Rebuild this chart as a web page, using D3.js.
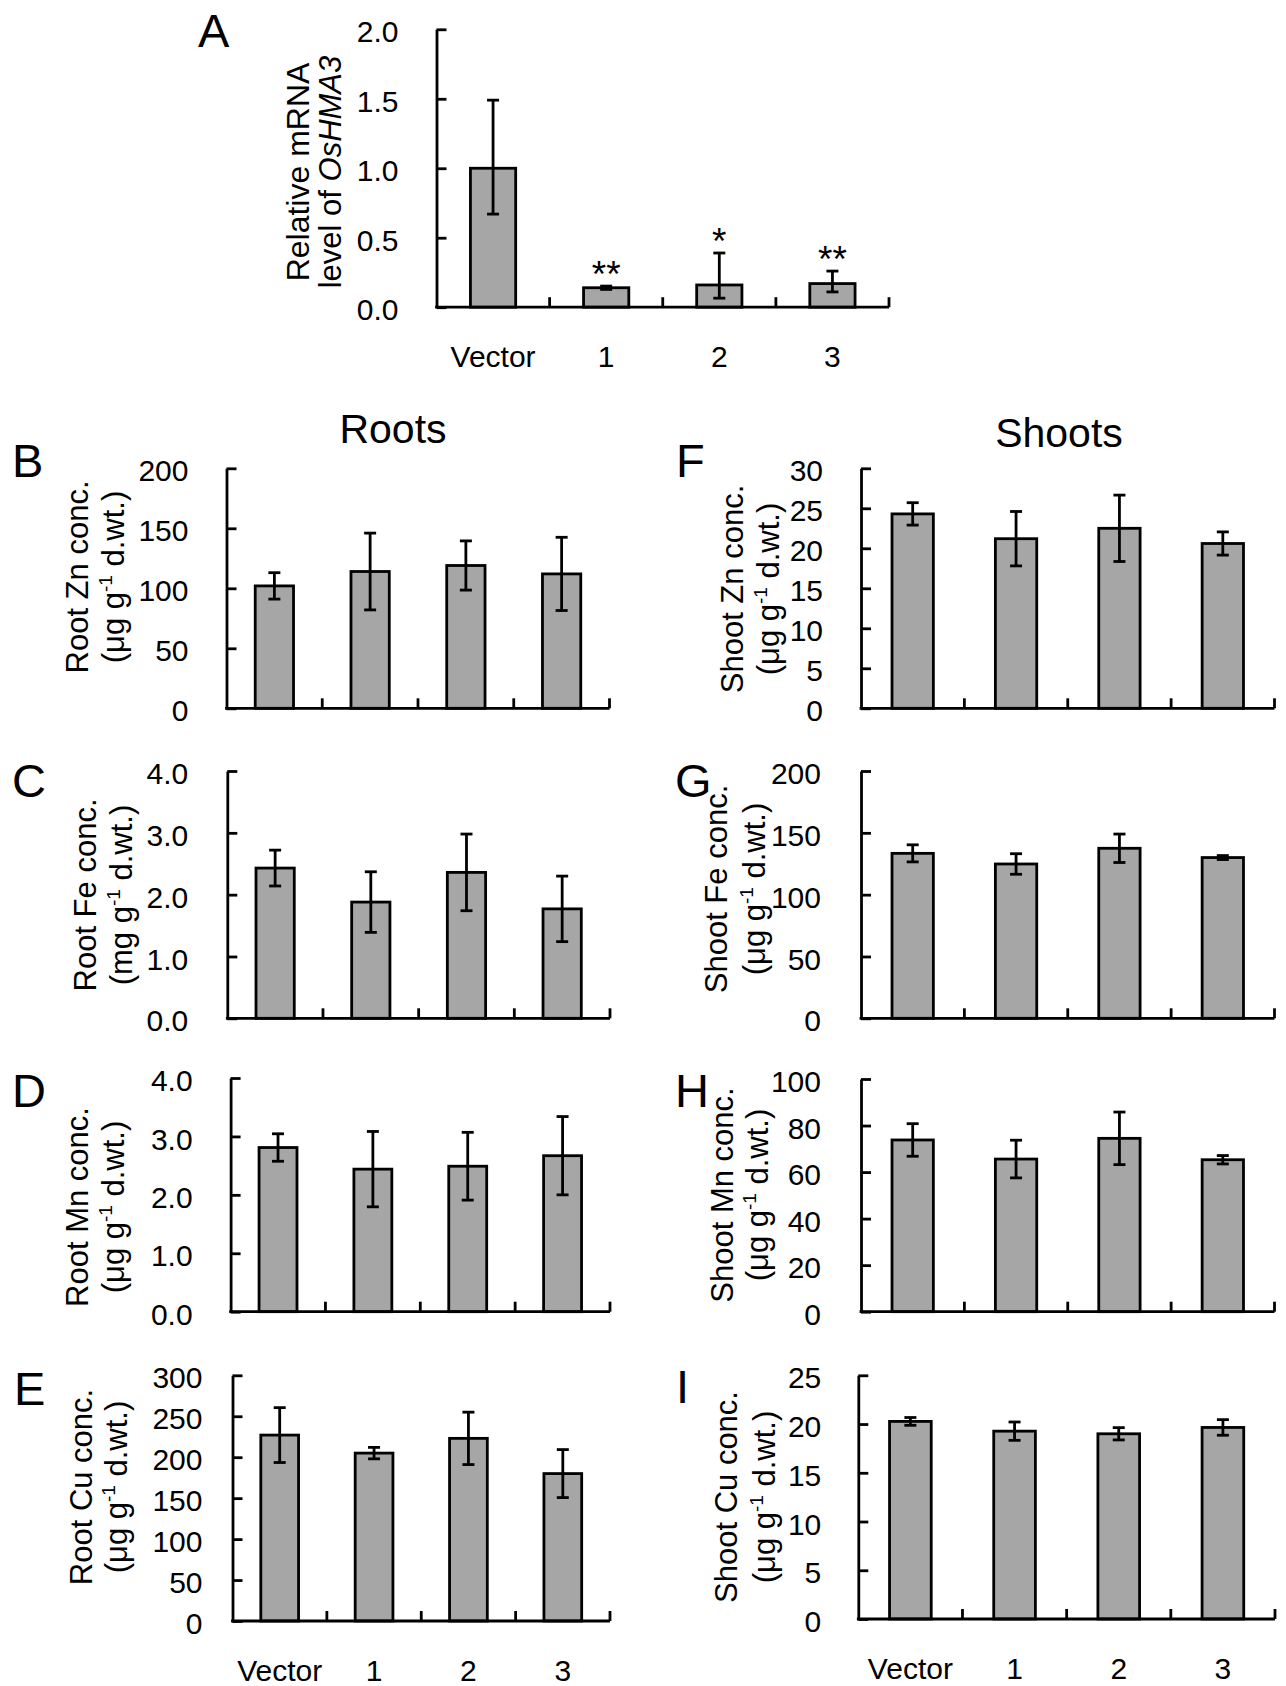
<!DOCTYPE html>
<html>
<head>
<meta charset="utf-8">
<script src="https://cdn.jsdelivr.net/npm/d3@7"></script>
<style>
  html, body { margin: 0; padding: 0; background: #fff; }
  svg text { font-family: "Liberation Sans", Arial, Helvetica, sans-serif; fill: #000; }
</style>
</head>
<body>
<svg id="chart" width="1286" height="1686"></svg>
<script>
// ---------------- DATA ----------------
const categories = ["Vector", "1", "2", "3"];

// A: relative mRNA level of OsHMA3 (asymmetric error bars)
const mrnaMean    = [1.00, 0.14, 0.16, 0.17];
const mrnaErrUp   = [0.49, 0.012, 0.23, 0.09];
const mrnaErrDown = [0.33, 0.012, 0.095, 0.06];
const mrnaSig     = ["", "**", "*", "**"];
const mrnaTicks   = [0, 0.5, 1.0, 1.5, 2.0];

// Roots
const rootZn    = [102, 114, 119, 112];
const rootZnErr = [11, 32, 20.5, 30.5];
const rootZnTicks = [0, 50, 100, 150, 200];

const rootFe    = [2.43, 1.88, 2.36, 1.77];
const rootFeErr = [0.29, 0.49, 0.62, 0.53];
const rootFeTicks = [0, 1, 2, 3, 4];

const rootMn    = [2.81, 2.44, 2.49, 2.67];
const rootMnErr = [0.235, 0.645, 0.58, 0.67];
const rootMnTicks = [0, 1, 2, 3, 4];

const rootCu    = [227, 205, 223, 180];
const rootCuErr = [33.5, 7, 32, 29.3];
const rootCuTicks = [0, 50, 100, 150, 200, 250, 300];

// Shoots
const shootZn    = [24.3, 21.2, 22.5, 20.6];
const shootZnErr = [1.4, 3.4, 4.15, 1.45];
const shootZnTicks = [0, 5, 10, 15, 20, 25, 30];

const shootFe    = [133.4, 124.8, 137.5, 130.0];
const shootFeErr = [6.9, 8.3, 11.5, 1.6];
const shootFeTicks = [0, 50, 100, 150, 200];

const shootMn    = [73.8, 65.6, 74.5, 65.3];
const shootMnErr = [7, 8.1, 11.3, 1.8];
const shootMnTicks = [0, 20, 40, 60, 80, 100];

const shootCu    = [20.27, 19.27, 19.0, 19.65];
const shootCuErr = [0.4, 0.94, 0.63, 0.8];
const shootCuTicks = [0, 5, 10, 15, 20, 25];

// ---------------- LAYOUT ----------------
const svg = d3.select("#chart");
const BAR_FILL = "#a6a6a6";
const LW = 2.8;

const panels = [
  { letter: "A", lx: 198, ly: 47, x0: 436.5, x1: 889, yTop: 29.3, yBot: 307.2,
    mean: mrnaMean, up: mrnaErrUp, down: mrnaErrDown, sig: mrnaSig, ticks: mrnaTicks, fmt: ".1f",
    gap: 38, xlabels: true, t1x: 309, t2x: 341, tcy: 172, t1size: 32,
    title1: [{t: "Relative mRNA"}], title2: [{t: "level of "}, {t: "OsHMA3", italic: true}] },

  { letter: "B", lx: 12, ly: 477, x0: 226.5, x1: 609.5, yTop: 468.3, yBot: 708.3,
    mean: rootZn, up: rootZnErr, down: rootZnErr, ticks: rootZnTicks, fmt: "d",
    gap: 38, t1x: 88, t2x: 124, tcy: 577, title1: "Root Zn conc.", unit: "μg" },
  { letter: "C", lx: 12, ly: 797, x0: 227.3, x1: 610, yTop: 771, yBot: 1018.3,
    mean: rootFe, up: rootFeErr, down: rootFeErr, ticks: rootFeTicks, fmt: ".1f",
    gap: 39, t1x: 96, t2x: 132, tcy: 895, title1: "Root Fe conc.", unit: "mg" },
  { letter: "D", lx: 12, ly: 1107, x0: 230.6, x1: 610, yTop: 1078, yBot: 1311.7,
    mean: rootMn, up: rootMnErr, down: rootMnErr, ticks: rootMnTicks, fmt: ".1f",
    gap: 38, t1x: 88, t2x: 124, tcy: 1207, title1: "Root Mn conc.", unit: "μg" },
  { letter: "E", lx: 14, ly: 1405, x0: 232.5, x1: 610, yTop: 1375.3, yBot: 1621,
    mean: rootCu, up: rootCuErr, down: rootCuErr, ticks: rootCuTicks, fmt: "d",
    gap: 30, xlabels: true, t1x: 92, t2x: 127, tcy: 1487, title1: "Root Cu conc.", unit: "μg" },

  { letter: "F", lx: 676, ly: 477, x0: 861, x1: 1274.5, yTop: 468.3, yBot: 708.3,
    mean: shootZn, up: shootZnErr, down: shootZnErr, ticks: shootZnTicks, fmt: "d",
    gap: 38, t1x: 743, t2x: 779, tcy: 589, title1: "Shoot Zn conc.", unit: "μg" },
  { letter: "G", lx: 675, ly: 797, x0: 861, x1: 1274.5, yTop: 771, yBot: 1018.3,
    mean: shootFe, up: shootFeErr, down: shootFeErr, ticks: shootFeTicks, fmt: "d",
    gap: 40, t1x: 727, t2x: 765, tcy: 889, title1: "Shoot Fe conc.", unit: "μg" },
  { letter: "H", lx: 675, ly: 1107, x0: 861, x1: 1274.5, yTop: 1079, yBot: 1311.7,
    mean: shootMn, up: shootMnErr, down: shootMnErr, ticks: shootMnTicks, fmt: "d",
    gap: 40, t1x: 733, t2x: 768, tcy: 1195, title1: "Shoot Mn conc.", unit: "μg" },
  { letter: "I", lx: 676, ly: 1403, x0: 858.3, x1: 1275, yTop: 1375.3, yBot: 1619,
    mean: shootCu, up: shootCuErr, down: shootCuErr, ticks: shootCuTicks, fmt: "d",
    gap: 37, xlabels: true, t1x: 737, t2x: 775, tcy: 1497, title1: "Shoot Cu conc.", unit: "μg" }
];

function drawPanel(p) {
  const g = svg.append("g");
  const y = d3.scaleLinear()
    .domain([0, p.ticks[p.ticks.length - 1]])
    .range([p.yBot, p.yTop]);
  const x = d3.scaleBand()
    .domain(categories)
    .range([p.x0, p.x1])
    .paddingInner(0.6)
    .paddingOuter(0.3);
  const bw = x.bandwidth();
  const step = x.step();

  const data = categories.map((c, i) => ({
    c, m: p.mean[i], hi: p.mean[i] + p.up[i], lo: p.mean[i] - p.down[i],
    sig: p.sig ? p.sig[i] : ""
  }));

  // bars
  g.selectAll("rect.bar").data(data).enter().append("rect")
    .attr("class", "bar")
    .attr("x", d => x(d.c))
    .attr("width", bw)
    .attr("y", d => y(d.m))
    .attr("height", d => y(0) - y(d.m))
    .attr("fill", BAR_FILL)
    .attr("stroke", "#000")
    .attr("stroke-width", LW);

  // error bars
  const eb = g.selectAll("g.err").data(data).enter().append("g").attr("class", "err");
  const cx = d => x(d.c) + bw / 2;
  const capW = 6;
  eb.append("line")
    .attr("x1", cx).attr("x2", cx)
    .attr("y1", d => y(d.hi)).attr("y2", d => y(d.lo))
    .attr("stroke", "#000").attr("stroke-width", LW);
  eb.append("line")
    .attr("x1", d => cx(d) - capW).attr("x2", d => cx(d) + capW)
    .attr("y1", d => y(d.hi)).attr("y2", d => y(d.hi))
    .attr("stroke", "#000").attr("stroke-width", LW);
  eb.append("line")
    .attr("x1", d => cx(d) - capW).attr("x2", d => cx(d) + capW)
    .attr("y1", d => y(d.lo)).attr("y2", d => y(d.lo))
    .attr("stroke", "#000").attr("stroke-width", LW);

  // significance
  if (p.sig) {
    g.selectAll("text.sig").data(data.filter(d => d.sig)).enter().append("text")
      .attr("class", "sig")
      .attr("x", cx)
      .attr("y", d => y(d.hi) + 1)
      .attr("text-anchor", "middle")
      .attr("font-size", 37)
      .text(d => d.sig);
  }

  // y axis (inner ticks)
  const fmt = d3.format(p.fmt);
  const yAxis = d3.axisLeft(y)
    .tickValues(p.ticks)
    .tickFormat(fmt)
    .tickSizeInner(-10)
    .tickSizeOuter(0)
    .tickPadding(p.gap);
  const ya = g.append("g").attr("transform", `translate(${p.x0},0)`).call(yAxis);
  ya.select(".domain").attr("stroke", "#000").attr("stroke-width", LW);
  ya.selectAll(".tick line").attr("stroke", "#000").attr("stroke-width", LW);
  ya.selectAll(".tick text")
    .attr("font-size", 30)
    .attr("font-family", null)
    .attr("dy", "0.42em");

  // x axis line + category boundary ticks (pointing up)
  g.append("line")
    .attr("x1", p.x0 - LW / 2).attr("x2", p.x1)
    .attr("y1", y(0)).attr("y2", y(0))
    .attr("stroke", "#000").attr("stroke-width", LW);
  const bounds = categories.slice(1).map(c => x(c) - step * 0.3).concat([x(categories[3]) + bw + step * 0.3]);
  g.selectAll("line.xt").data(bounds).enter().append("line")
    .attr("class", "xt")
    .attr("x1", d => d).attr("x2", d => d)
    .attr("y1", y(0)).attr("y2", y(0) - 10)
    .attr("stroke", "#000").attr("stroke-width", LW);

  // x labels
  if (p.xlabels) {
    g.selectAll("text.xl").data(categories).enter().append("text")
      .attr("class", "xl")
      .attr("x", c => x(c) + bw / 2)
      .attr("y", y(0) + 60)
      .attr("text-anchor", "middle")
      .attr("font-size", 30)
      .text(c => c);
  }

  // panel letter
  g.append("text")
    .attr("x", p.lx).attr("y", p.ly)
    .attr("font-size", 47)
    .text(p.letter);

  // axis title (two lines, rotated)
  const t1 = g.append("text")
    .attr("transform", `translate(${p.t1x},${p.tcy}) rotate(-90)`)
    .attr("text-anchor", "middle")
    .attr("font-size", p.t1size || 31);
  const t2 = g.append("text")
    .attr("transform", `translate(${p.t2x},${p.tcy}) rotate(-90)`)
    .attr("text-anchor", "middle")
    .attr("font-size", 31);
  if (Array.isArray(p.title1)) {
    p.title1.forEach(s => t1.append("tspan").attr("font-style", s.italic ? "italic" : null).text(s.t));
    p.title2.forEach(s => t2.append("tspan").attr("font-style", s.italic ? "italic" : null).text(s.t));
  } else {
    t1.text(p.title1);
    t2.append("tspan").text("(" + p.unit + " g");
    t2.append("tspan").attr("font-size", 19).attr("dy", -12).text("-1");
    t2.append("tspan").attr("dy", 12).text(" d.wt.)");
  }
}

panels.forEach(drawPanel);

// column headers
svg.append("text").attr("x", 393).attr("y", 443).attr("text-anchor", "middle")
  .attr("font-size", 41).text("Roots");
svg.append("text").attr("x", 1059).attr("y", 447).attr("text-anchor", "middle")
  .attr("font-size", 41).text("Shoots");
</script>
</body>
</html>
